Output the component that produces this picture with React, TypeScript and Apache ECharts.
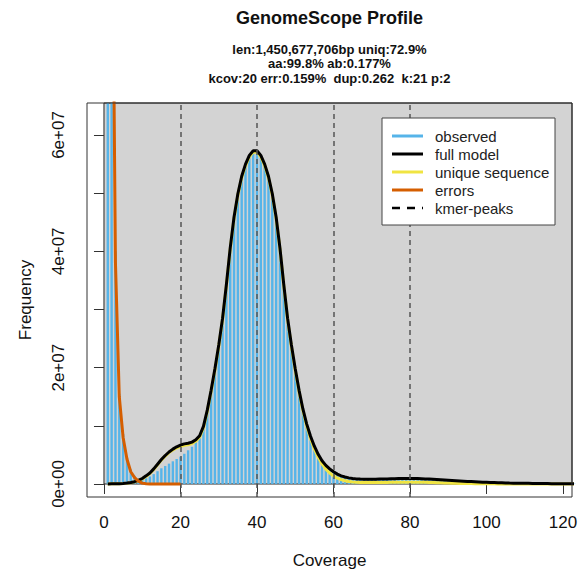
import React, { useEffect, useRef } from "react";
import * as echarts from "echarts";

// ---- data (frequency values in millions) ----
const COVERAGE_START = 1;

const observed = [
  430, 120, 40, 15.5, 8.6, 4.6, 2.5, 1.4, 0.9, 0.8,
  1.0, 1.3, 1.7, 2.2, 2.7, 3.1, 3.5, 3.9, 4.3, 4.7,
  5.2, 5.8, 6.4, 7.2, 8.2, 9.9, 12.7, 16.0, 19.8, 23.9,
  28.5, 34.2, 40.5, 45.9, 49.9, 52.9, 55.0, 56.5, 57.3, 57.3,
  56.5, 55.0, 52.9, 49.9, 45.9, 40.6, 34.3, 28.5, 23.9, 19.8,
  16.1, 12.9, 10.3, 8.2, 6.5, 5.1, 4.0, 3.2, 2.6, 2.1,
  1.7, 1.4, 1.2, 1.05, 0.95, 0.88, 0.84, 0.82, 0.81, 0.81,
  0.82, 0.84, 0.86, 0.88, 0.9, 0.92, 0.94, 0.95, 0.96, 0.96,
  0.95, 0.93, 0.9, 0.87, 0.84, 0.8, 0.76, 0.72, 0.68, 0.64,
  0.6, 0.56, 0.52, 0.48, 0.44, 0.41, 0.38, 0.35, 0.32, 0.29,
  0.26, 0.24, 0.22, 0.2, 0.18, 0.16, 0.15, 0.14, 0.13, 0.12,
  0.11, 0.1, 0.09, 0.08, 0.07, 0.07, 0.06, 0.06, 0.05, 0.05,
  0.05, 0.04, 0.04, 0.04, 0.03,
];

const fullModel = [
  0.02, 0.03, 0.04, 0.06, 0.1, 0.16, 0.25, 0.4, 0.62, 0.95,
  1.4, 1.9, 2.6, 3.4, 4.2, 4.9, 5.5, 6.0, 6.4, 6.7,
  6.9, 7.0, 7.2, 7.6, 8.3, 9.9, 12.7, 16.1, 19.8, 23.9,
  28.5, 34.3, 40.6, 45.9, 49.9, 52.9, 55.0, 56.5, 57.3, 57.3,
  56.5, 55.0, 52.9, 49.9, 45.9, 40.6, 34.3, 28.5, 23.9, 19.8,
  16.1, 12.9, 10.3, 8.2, 6.5, 5.1, 4.0, 3.2, 2.6, 2.1,
  1.7, 1.4, 1.2, 1.05, 0.95, 0.88, 0.84, 0.82, 0.81, 0.81,
  0.82, 0.84, 0.86, 0.88, 0.9, 0.92, 0.94, 0.95, 0.96, 0.96,
  0.95, 0.93, 0.9, 0.87, 0.84, 0.8, 0.76, 0.72, 0.68, 0.64,
  0.6, 0.56, 0.52, 0.48, 0.44, 0.41, 0.38, 0.35, 0.32, 0.29,
  0.26, 0.24, 0.22, 0.2, 0.18, 0.16, 0.15, 0.14, 0.13, 0.12,
  0.11, 0.1, 0.09, 0.08, 0.07, 0.07, 0.06, 0.06, 0.05, 0.05,
  0.05, 0.04, 0.04, 0.04, 0.03,
];

const uniqueSequence = [
  0.02, 0.03, 0.04, 0.05, 0.09, 0.15, 0.23, 0.37, 0.58, 0.88,
  1.3, 1.8, 2.5, 3.3, 4.1, 4.8, 5.4, 5.85, 6.2, 6.45,
  6.65, 6.75, 6.95, 7.35, 8.05, 9.65, 12.45, 15.85, 19.55, 23.65,
  28.25, 34.05, 40.35, 45.65, 49.65, 52.65, 54.75, 56.25, 57.05, 57.05,
  56.25, 54.75, 52.65, 49.65, 45.65, 40.35, 34.05, 28.2, 23.6, 19.5,
  15.8, 12.6, 9.95, 7.8, 6.0, 4.6, 3.45, 2.55, 1.9, 1.4,
  1.0, 0.75, 0.56, 0.44, 0.36, 0.3, 0.27, 0.25, 0.24, 0.24,
  0.24, 0.25, 0.26, 0.27, 0.28, 0.29, 0.3, 0.31, 0.31, 0.31,
  0.31, 0.3, 0.29, 0.28, 0.26, 0.24, 0.22, 0.2, 0.18, 0.16,
  0.14, 0.12, 0.1, 0.09, 0.08, 0.07, 0.06, 0.05, 0.04, 0.04,
  0.03, 0.03, 0.02, 0.02, 0.02, 0.01, 0.01, 0.01, 0.01, 0.01,
  0.01, 0.01, 0.01, 0.01, 0.01, 0.0, 0.0, 0.0, 0.0, 0.0,
  0.0, 0.0, 0.0, 0.0, 0.0,
];

const errors = [
  420, 115, 38, 15, 8.0, 4.3, 2.1, 1.1, 0.5, 0.15,
  0.04, 0.01, 0, 0, 0, 0, 0, 0, 0, 0,
];

const kmerPeaks = [20, 40, 60, 80];
const xTicks = [0, 20, 40, 60, 80, 100, 120];
const yLabelValues = [0, 20, 40, 60];
const yTickLabels = ["0e+00", "2e+07", "4e+07", "6e+07"];
const yTickValues = [0, 10, 20, 30, 40, 50, 60];

const titleText = "GenomeScope Profile";
const subtitleLines = [
  "len:1,450,677,706bp uniq:72.9%",
  "aa:99.8% ab:0.177%",
  "kcov:20 err:0.159%  dup:0.262  k:21 p:2",
];
const legendItems = [
  { name: "observed", color: "#56B4E9", dash: false },
  { name: "full model", color: "#000000", dash: false },
  { name: "unique sequence", color: "#F0E442", dash: false },
  { name: "errors", color: "#D55E00", dash: false },
  { name: "kmer-peaks", color: "#000000", dash: true },
];

// ---- layout ----
const X_MIN = -4.44;
const X_MAX = 122.35;
const Y_MIN = -2.235;
const Y_MAX = 65.5;
const FONT = '"Liberation Sans", Arial, Helvetica, sans-serif';
const GRID = { left: 87, top: 103, width: 485, height: 394 };

const pairs = (arr: number[]) => arr.map((v, i) => [COVERAGE_START + i, v]);

export default function App() {
  const ref = useRef<HTMLDivElement>(null);
  useEffect(() => {
    if (!ref.current) return;
    const chart = echarts.init(ref.current, undefined, { renderer: "svg" });

    const legendX = 382;
    const legendY = 118;
    const rowY = [136, 154, 172, 190, 208];

    const graphics: any[] = [
      {
        type: "text",
        x: 329.5,
        y: 18,
        style: {
          text: titleText,
          fontSize: 18,
          fontWeight: "bold",
          fontFamily: FONT,
          fill: "#111",
          textAlign: "center",
          textVerticalAlign: "middle",
        },
      },
      ...subtitleLines.map((t, i) => ({
        type: "text",
        x: 329.5,
        y: 49 + i * 14.5,
        style: {
          text: t,
          fontSize: 13,
          fontWeight: "bold",
          fontFamily: FONT,
          fill: "#111",
          textAlign: "center",
          textVerticalAlign: "middle",
        },
      })),
      {
        type: "rect",
        z: 100,
        shape: { x: GRID.left, y: GRID.top, width: GRID.width, height: GRID.height },
        style: { fill: "none", stroke: "#333", lineWidth: 1 },
      },
      {
        type: "rect",
        z: 100,
        shape: { x: legendX, y: legendY, width: 173, height: 107 },
        style: { fill: "#ffffff", stroke: "#444", lineWidth: 1 },
      },
      ...legendItems.map((it, i) => ({
        type: "line",
        z: 101,
        shape: { x1: 392, y1: rowY[i], x2: 423, y2: rowY[i] },
        style: {
          stroke: it.color,
          lineWidth: it.dash ? 2.5 : 3,
          lineDash: it.dash ? [8, 7] : null,
        },
      })),
      ...legendItems.map((it, i) => ({
        type: "text",
        z: 101,
        x: 435,
        y: rowY[i],
        style: {
          text: it.name,
          fontSize: 15,
          fontFamily: FONT,
          fill: "#222",
          textAlign: "left",
          textVerticalAlign: "middle",
        },
      })),
    ];

    chart.setOption({
      animation: false,
      backgroundColor: "#ffffff",
      grid: { ...GRID, containLabel: false },
      xAxis: {
        type: "value",
        min: X_MIN,
        max: X_MAX,
        name: "Coverage",
        nameLocation: "middle",
        nameGap: 55,
        nameTextStyle: { fontSize: 17, fontFamily: FONT, color: "#111" },
        axisLine: { show: false },
        splitLine: { show: false },
        axisTick: {
          show: true,
          inside: false,
          length: 10,
          customValues: xTicks,
          lineStyle: { color: "#333", width: 1 },
        },
        axisLabel: {
          customValues: xTicks,
          margin: 17,
          fontSize: 17,
          fontFamily: FONT,
          color: "#111",
        },
      },
      yAxis: {
        type: "value",
        min: Y_MIN,
        max: Y_MAX,
        name: "Frequency",
        nameLocation: "middle",
        nameGap: 53,
        nameTextStyle: { fontSize: 17, fontFamily: FONT, color: "#111" },
        axisLine: { show: false },
        splitLine: { show: false },
        axisTick: {
          show: true,
          inside: false,
          length: 10,
          customValues: yTickValues,
          lineStyle: { color: "#333", width: 1 },
        },
        axisLabel: {
          customValues: yLabelValues,
          rotate: 90,
          margin: 20,
          fontSize: 17,
          fontFamily: FONT,
          color: "#111",
          formatter: (v: number) => {
            const idx = yLabelValues.indexOf(Math.round(v));
            return idx >= 0 ? yTickLabels[idx] : "";
          },
        },
      },
      graphic: graphics,
      series: [
        {
          type: "custom",
          z: 0,
          silent: true,
          data: [[0, 0]],
          renderItem: (_p: any, api: any) => {
            const p0 = api.coord([0, Y_MAX]);
            const p1 = api.coord([X_MAX, 0]);
            return {
              type: "rect",
              shape: { x: p0[0], y: p0[1], width: p1[0] - p0[0], height: p1[1] - p0[1] },
              style: { fill: "#D3D3D3", stroke: "#222", lineWidth: 1 },
            };
          },
        },
        {
          name: "observed",
          type: "bar",
          z: 1,
          barWidth: 2.4,
          clip: true,
          itemStyle: { color: "#56B4E9" },
          data: pairs(observed),
        },
        {
          name: "kmer-peaks",
          type: "line",
          z: 2,
          data: [],
          markLine: {
            silent: true,
            symbol: ["none", "none"],
            label: { show: false },
            lineStyle: { type: [5, 4], color: "#555", width: 1.5 },
            data: kmerPeaks.map((x) => ({ xAxis: x })),
          },
        },
        {
          name: "unique sequence",
          type: "line",
          z: 3,
          symbol: "none",
          clip: true,
          lineStyle: { color: "#F0E442", width: 3 },
          data: pairs(uniqueSequence),
        },
        {
          name: "full model",
          type: "line",
          z: 4,
          symbol: "none",
          clip: true,
          lineStyle: { color: "#000000", width: 3 },
          data: pairs(fullModel),
        },
        {
          name: "errors",
          type: "line",
          z: 5,
          symbol: "none",
          clip: true,
          lineStyle: { color: "#D55E00", width: 3 },
          data: pairs(errors),
        },
      ],
    });
    return () => chart.dispose();
  }, []);

  return (
    <div
      ref={ref}
      style={{ position: "fixed", left: 0, top: 0, width: 582, height: 574, background: "#fff" }}
    />
  );
}
